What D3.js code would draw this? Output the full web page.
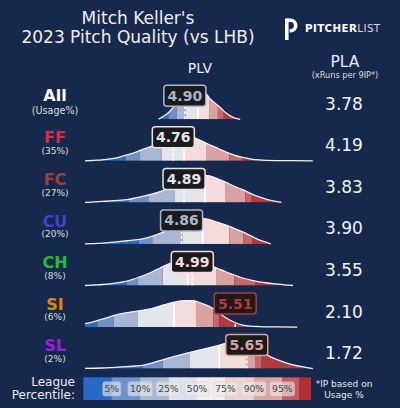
<!DOCTYPE html>
<html><head><meta charset="utf-8">
<script src="https://cdn.jsdelivr.net/npm/d3@7/dist/d3.min.js"></script>
<style>html,body{margin:0;padding:0;background:#16294d;}svg{display:block;}</style>
</head><body>
<script>
// ---------- DATA ----------
const pitches = ["All","FF","FC","CU","CH","SI","SL"];
const usage = ["(Usage%)","(35%)","(27%)","(20%)","(8%)","(6%)","(2%)"];
const plv = [4.90,4.76,4.89,4.86,4.99,5.51,5.65];
const pla = ["3.78","4.19","3.83","3.90","3.55","2.10","1.72"];
const pitchColors = ["#ffffff","#d22d49","#9a4130","#3b45cf","#1dbe3a","#dc8a08","#9b1ed8"];
const percentileLabels = ["5%","10%","25%","50%","75%","90%","95%"];
const bandColors = ["#2b6bc2","#6e90c6","#a7b7d3","#e3e5eb","#f3dcdb","#d9a19f","#c66869","#b03a3e"];
const legendColors = ["#2a6ac6","#6d93cc","#a8b9d6","#dde2ec","#f6ecec","#f0d0d0","#dea4a4","#c65a5c","#b22d35"];

// league percentile cut points (5,10,25,50,75,90,95) in PLV
const cutsAll = [4.70,4.80,4.91,5.06,5.20,5.30,5.37];
const cutsFF  = [4.183,4.356,4.62,4.89,5.165,5.44,5.60];
const cutsFC  = [4.223,4.457,4.78,5.144,5.395,5.63,5.71];
const cutsCU  = [4.344,4.505,4.87,5.116,5.44,5.61,5.72];
const cutsCH  = [4.195,4.33,4.63,4.935,5.286,5.50,5.75];
const cutsSI  = [3.84,4.04,4.33,4.77,5.035,5.245,5.318];
const cutsSL  = [4.389,4.632,4.962,5.318,5.64,5.75,5.83];

// league PLV density (relative, peak ~30)
const densAll = [[4.58,0],[4.62,2],[4.66,4],[4.70,6.5],[4.75,11],[4.80,15],[4.85,19],[4.90,22.5],[4.95,25.5],[5.00,27.5],[5.05,28.5],[5.10,28.5],[5.15,26],[5.17,24.3],[5.21,20],[5.25,17.2],[5.30,13.8],[5.35,10],[5.40,6.2],[5.45,3.4],[5.50,1.5],[5.57,0]];
const densFF = [[3.69,0],[3.8,0.5],[3.9,1],[4.0,2],[4.1,3.5],[4.2,6],[4.3,8.5],[4.4,11.8],[4.5,14.8],[4.6,18.5],[4.7,22],[4.8,24.5],[4.9,25],[5.0,23.5],[5.1,20],[5.2,16],[5.3,12.5],[5.4,8.8],[5.5,5.8],[5.6,3.4],[5.7,1.8],[5.8,0.9],[5.9,0.5],[6.0,0.3],[6.2,0.15],[6.45,0]];
const densFC = [[3.69,0],[3.8,0.5],[3.9,1],[4.0,1.5],[4.1,2.1],[4.2,2.8],[4.3,4.5],[4.4,6.2],[4.5,8.2],[4.6,10.8],[4.7,14],[4.8,17.5],[4.9,21],[5.0,24.5],[5.1,26.5],[5.15,27],[5.2,26.5],[5.3,23.5],[5.4,20],[5.5,16],[5.6,12.8],[5.7,8.8],[5.8,5.5],[5.9,2.8],[6.0,1],[6.07,0]];
const densCU = [[3.69,0],[3.8,0.4],[3.9,0.8],[4.0,1.5],[4.1,2.3],[4.2,3.2],[4.3,4],[4.4,5.3],[4.5,7.5],[4.6,10.5],[4.7,14],[4.8,18],[4.9,21.5],[5.0,24.3],[5.1,25.5],[5.2,24.2],[5.3,21.5],[5.4,18.8],[5.5,15.5],[5.6,12],[5.7,8],[5.8,4],[5.9,1.2],[5.94,0]];
const densCH = [[3.69,0],[3.8,0.5],[3.9,1],[4.0,1.7],[4.1,2.8],[4.2,4.3],[4.3,7],[4.4,10],[4.5,13.5],[4.6,17.5],[4.7,21.5],[4.8,24.5],[4.9,26.5],[5.0,25.5],[5.1,23],[5.2,20.5],[5.3,17],[5.4,13.5],[5.5,10.5],[5.6,7.5],[5.7,5.3],[5.8,3.7],[5.9,2.5],[6.0,1.6],[6.1,0.7],[6.21,0]];
const densSI = [[3.69,3.5],[3.8,5.5],[3.9,8],[4.0,10.5],[4.1,13],[4.2,14.5],[4.3,15.7],[4.4,17],[4.5,18.5],[4.6,21],[4.7,23.5],[4.8,25.5],[4.9,26.5],[5.0,26.5],[5.1,23.8],[5.2,20.5],[5.3,15],[5.4,9],[5.5,4.8],[5.6,2],[5.7,0.9],[5.8,0.5],[6.0,0.2],[6.26,0]];
const densSL = [[3.69,0.3],[3.9,0.6],[4.0,1],[4.1,1.5],[4.2,2],[4.3,2.6],[4.4,3.5],[4.5,5.5],[4.6,8],[4.7,10.5],[4.8,12.8],[4.9,15],[5.0,17],[5.1,19],[5.2,21],[5.3,23],[5.4,25.5],[5.5,27.5],[5.6,28.5],[5.7,26],[5.8,20],[5.9,13.5],[6.0,9.5],[6.1,6.5],[6.2,4],[6.3,2.2],[6.4,0.7],[6.45,0]];

const cutsList = [cutsAll,cutsFF,cutsFC,cutsCU,cutsCH,cutsSI,cutsSL];
const densList = [densAll,densFF,densFC,densCU,densCH,densSI,densSL];

// ---------- DRAW ----------
const W = 400, H = 408;
const FONT = "DejaVu Sans, Verdana, sans-serif";
const svg = d3.select("body").append("svg").attr("width", W).attr("height", H)
  .style("font-family", FONT);
svg.append("rect").attr("width", W).attr("height", H).attr("fill", "#16294d");

const x = d3.scaleLinear().domain([3.69, 6.45]).range([85, 312.8]);
const yh = d3.scaleLinear().domain([0, 30]).range([0, 30]);
const rowY = d3.scaleLinear().domain([0, 6]).range([119.3, 368.6]);

// Title
svg.append("text").attr("x", 138).attr("y", 24).attr("text-anchor", "middle")
  .attr("fill", "#eeeeee").attr("font-size", 17).text("Mitch Keller's");
svg.append("text").attr("x", 138).attr("y", 42.7).attr("text-anchor", "middle")
  .attr("fill", "#eeeeee").attr("font-size", 17).text("2023 Pitch Quality (vs LHB)");

// Logo
const logo = svg.append("g");
logo.append("line").attr("x1", 286.8).attr("x2", 286.8).attr("y1", 18.5).attr("y2", 40)
  .attr("stroke", "#fff").attr("stroke-width", 3.6);
logo.append("path").attr("d", "M286.8,20.3 H290.5 A5.2,5.2 0 0 1 290.5,30.7 H289.6")
  .attr("fill", "none").attr("stroke", "#fff").attr("stroke-width", 3.6);
const lt = logo.append("text").attr("x", 305).attr("y", 32).attr("font-size", 10.3)
  .attr("letter-spacing", 0.4);
lt.append("tspan").attr("font-weight", "bold").attr("fill", "#fff").text("PITCHER");
lt.append("tspan").attr("fill", "#d5dae4").text("LIST");

// Column headers
svg.append("text").attr("x", 200).attr("y", 73).attr("text-anchor", "middle")
  .attr("fill", "#eeeeee").attr("font-size", 14).text("PLV");
svg.append("text").attr("x", 345).attr("y", 67.3).attr("text-anchor", "middle")
  .attr("fill", "#eeeeee").attr("font-size", 15.5).text("PLA");
svg.append("text").attr("x", 345).attr("y", 78).attr("text-anchor", "middle")
  .attr("fill", "#dddddd").attr("font-size", 8.2).text("(xRuns per 9IP*)");

const defs = svg.append("defs");

pitches.forEach((p, i) => {
  const base = rowY(i);
  const dens = densList[i];
  const cuts = cutsList[i];
  const area = d3.area().x(d => x(d[0])).y0(base).y1(d => base - yh(d[1])).curve(d3.curveMonotoneX);
  const line = d3.line().x(d => x(d[0])).y(d => base - yh(d[1])).curve(d3.curveMonotoneX);

  defs.append("clipPath").attr("id", "clip" + i).append("path").attr("d", area(dens));

  const g = svg.append("g").attr("clip-path", `url(#clip${i})`);
  const edges = [dens[0][0], ...cuts, dens[dens.length - 1][0]];
  for (let b = 0; b < 8; b++) {
    g.append("rect")
      .attr("x", x(edges[b])).attr("width", Math.max(0, x(edges[b + 1]) - x(edges[b])))
      .attr("y", base - 45).attr("height", 45).attr("fill", bandColors[b]);
  }
  // median line
  g.append("line").attr("x1", x(cuts[3])).attr("x2", x(cuts[3]))
    .attr("y1", base).attr("y2", base - 45).attr("stroke", "#fff").attr("stroke-width", 1.6);
  // pitcher value dashed line
  g.append("line").attr("x1", x(plv[i])).attr("x2", x(plv[i]))
    .attr("y1", base).attr("y2", base - 45).attr("stroke", "#fff").attr("stroke-width", 1.6)
    .attr("stroke-dasharray", "3,2");

  svg.append("path").attr("d", line(dens)).attr("fill", "none")
    .attr("stroke", "#f2f2f2").attr("stroke-width", 1.3);

  // value box
  const band = d3.bisect(cuts, plv[i]);
  const col = bandColors[band];
  const bx = x(plv[i]), by = base - 23.5;
  svg.append("rect").attr("x", bx - 21).attr("y", by - 10.5).attr("width", 42).attr("height", 21)
    .attr("rx", 3).attr("fill", "#1b1b1b").attr("stroke", col).attr("stroke-width", 1.5);
  svg.append("text").attr("x", bx).attr("y", by + 5).attr("text-anchor", "middle")
    .attr("font-weight", "bold").attr("font-size", 14).attr("fill", band === 7 ? "#c3323a" : col)
    .text(plv[i].toFixed(2));

  // labels
  svg.append("text").attr("x", 55).attr("y", base - (i === 0 ? 18.6 : 17.4)).attr("text-anchor", "middle")
    .attr("font-weight", "bold").attr("font-size", 16).attr("fill", pitchColors[i]).text(p);
  svg.append("text").attr("x", 55).attr("y", base - (i === 0 ? 5.6 : 6.8)).attr("text-anchor", "middle")
    .attr("font-size", i === 0 ? 9.6 : 9).attr("fill", "#dddddd").text(usage[i]);

  // PLA
  svg.append("text").attr("x", 344).attr("y", base - 9.5).attr("text-anchor", "middle")
    .attr("font-size", 17).attr("fill", "#f2f2f2").text(pla[i]);
});

// Legend
svg.append("text").attr("x", 75).attr("y", 385.5).attr("text-anchor", "end")
  .attr("font-size", 12).attr("fill", "#eeeeee").text("League");
svg.append("text").attr("x", 75).attr("y", 398.5).attr("text-anchor", "end")
  .attr("font-size", 12).attr("fill", "#eeeeee").text("Percentile:");

const lx = d3.scaleLinear().domain([0, 8]).range([83.3, 310.7]);
const legendStops = [0,1,2,3,4,5,6,7,7.6,8];
legendColors.forEach((c, k) => {
  svg.append("rect").attr("x", lx(legendStops[k])).attr("y", 377.3)
    .attr("width", lx(legendStops[k + 1]) - lx(legendStops[k]) + 0.3).attr("height", 22.7)
    .attr("fill", c);
});
percentileLabels.forEach((t, k) => {
  const cx = lx(k + 1);
  const w = t.length === 2 ? 18 : 24.5;
  svg.append("rect").attr("x", cx - w / 2).attr("y", 381.7).attr("width", w).attr("height", 14.3)
    .attr("rx", 2.5).attr("fill", "rgba(235,235,235,0.62)").attr("stroke", "rgba(200,200,200,0.5)")
    .attr("stroke-width", 0.8);
  svg.append("text").attr("x", cx).attr("y", 392.3).attr("text-anchor", "middle")
    .attr("font-size", 9.2).attr("fill", "#444").text(t);
});

svg.append("text").attr("x", 344).attr("y", 386.7).attr("text-anchor", "middle")
  .attr("font-size", 9).attr("fill", "#e6e6e6").text("*IP based on");
svg.append("text").attr("x", 344).attr("y", 397.5).attr("text-anchor", "middle")
  .attr("font-size", 9).attr("fill", "#e6e6e6").text("Usage %");
</script>
</body></html>
